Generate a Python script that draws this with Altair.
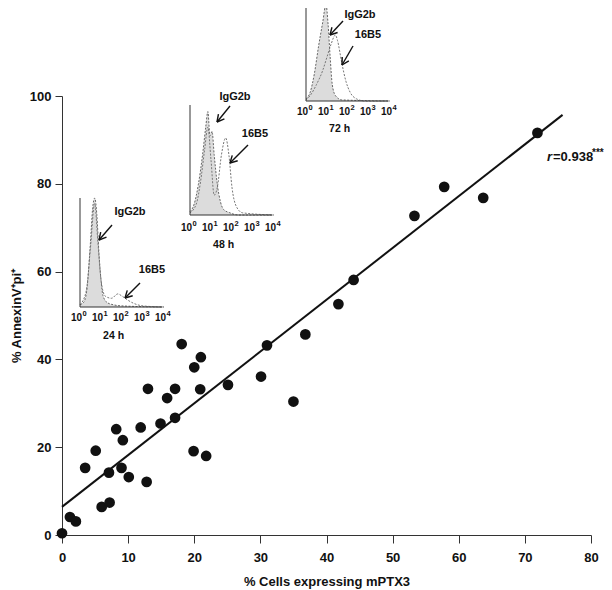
import math
import altair as alt
import pandas as pd

# ---------------- main scatter data ----------------
mptx3 = [0, 1.2, 2.1, 3.5, 5.1, 6.0, 7.2, 7.1, 8.2, 9.2, 9.0, 10.1, 11.9, 12.8, 13.0,
         14.9, 15.9, 17.1, 17.1, 18.1, 20.0, 21.0, 20.9, 19.9, 21.8, 25.1, 30.1, 31.0,
         35.0, 36.8, 41.8, 44.1, 53.3, 57.8, 63.7, 71.9]
annexin = [0.4, 4.1, 3.1, 15.3, 19.2, 6.4, 7.4, 14.2, 24.1, 21.6, 15.3, 13.2, 24.5, 12.1, 33.3,
           25.4, 31.2, 33.3, 26.7, 43.5, 38.2, 40.5, 33.2, 19.1, 18.0, 34.2, 36.1, 43.2,
           30.4, 45.7, 52.6, 58.1, 72.7, 79.3, 76.8, 91.6]
fit_x = [0, 75.7]
fit_y = [6.4, 95.7]
x_ticks = [0, 10, 20, 30, 40, 50, 60, 70, 80]
y_ticks = [0, 20, 40, 60, 80, 100]

# ---------------- inset histograms (log10 fluorescence, relative count) ----------------
h24_igg_x = [0.0, 0.2, 0.35, 0.5, 0.6, 0.7, 0.8, 0.9, 1.0, 1.1, 1.3, 1.6, 2.0, 4.0]
h24_igg_y = [2, 5, 20, 60, 90, 100, 85, 50, 25, 10, 4, 2, 1, 0]
h24_b_x = [0.0, 0.3, 0.5, 0.7, 0.85, 1.0, 1.2, 1.5, 1.8, 2.0, 2.3, 2.6, 3.0, 4.0]
h24_b_y = [2, 15, 55, 95, 60, 25, 10, 8, 12, 10, 6, 3, 1, 0]

h48_igg_x = [0.0, 0.2, 0.4, 0.6, 0.75, 0.85, 0.95, 1.05, 1.15, 1.3, 1.45, 1.6, 1.9, 2.3, 4.0]
h48_igg_y = [3, 10, 28, 55, 80, 94, 72, 76, 55, 28, 12, 5, 2, 0, 0]
h48_b_x = [0.0, 0.3, 0.5, 0.7, 0.85, 1.0, 1.15, 1.3, 1.5, 1.7, 1.85, 2.0, 2.2, 2.5, 4.0]
h48_b_y = [2, 10, 30, 60, 80, 50, 18, 25, 55, 70, 55, 25, 8, 2, 0]

h72_igg_x = [0.0, 0.2, 0.4, 0.6, 0.8, 0.95, 1.05, 1.15, 1.25, 1.4, 1.7, 4.0]
h72_igg_y = [2, 8, 25, 50, 72, 88, 70, 40, 15, 5, 1, 0]
h72_b_x = [0.0, 0.2, 0.5, 0.8, 1.0, 1.2, 1.4, 1.5, 1.7, 1.9, 2.1, 2.4, 2.8, 4.0]
h72_b_y = [1, 5, 15, 28, 40, 52, 60, 55, 35, 18, 8, 2, 0, 0]

decades = [0, 1, 2, 3, 4]
decade_exp = ["0", "1", "2", "3", "4"]

FONT = "Liberation Sans"
OX, OY = 62, 96  # plot origin on the page


def inset(igg_x, igg_y, b_x, b_y, xr, yr, tick_y, time_y, time_label):
    sx = alt.Scale(domain=[0, 4], range=xr, nice=False, zero=False)
    sy = alt.Scale(domain=[0, 100], range=yr, nice=False)
    X = lambda f: alt.X(f, scale=sx, axis=None)
    Y = lambda f: alt.Y(f, scale=sy, axis=None)
    igg = pd.DataFrame({"x": igg_x, "y": igg_y})
    b = pd.DataFrame({"x": b_x, "y": b_y})
    fill = alt.Chart(igg).mark_area(color="#dcdcdc", interpolate="monotone").encode(x=X("x:Q"), y=Y("y:Q"))
    outline = alt.Chart(igg).mark_line(color="#666", strokeWidth=1, strokeDash=[2, 1.5],
                                       interpolate="monotone").encode(x=X("x:Q"), y=Y("y:Q"))
    bl = alt.Chart(b).mark_line(color="#777", strokeWidth=1, strokeDash=[2, 1.5],
                                interpolate="monotone").encode(x=X("x:Q"), y=Y("y:Q"))
    vax = alt.Chart(pd.DataFrame({"x": [0], "y": [0], "y2": [100]})).mark_rule(
        color="#333", strokeWidth=1).encode(x=X("x:Q"), y=Y("y:Q"), y2="y2:Q")
    hax = alt.Chart(pd.DataFrame({"x": [0], "x2": [3.9], "y": [0]})).mark_rule(
        color="#333", strokeWidth=1).encode(x=X("x:Q"), x2="x2:Q", y=Y("y:Q"))
    tdf = pd.DataFrame({"x": decades, "e": decade_exp})
    base = alt.Chart(tdf).mark_text(
        text="10", font=FONT, fontSize=10, fontWeight="bold", color="#111",
        baseline="middle", align="right", dx=2).encode(x=X("x:Q"), y=alt.value(tick_y))
    sup = alt.Chart(tdf).mark_text(
        font=FONT, fontSize=7.5, fontWeight="bold", color="#111",
        baseline="middle", align="left", dx=2.5, dy=-4).encode(
        x=X("x:Q"), y=alt.value(tick_y), text="e:N")
    tl = alt.Chart(pd.DataFrame({"x": [1.6], "t": [time_label]})).mark_text(
        font=FONT, fontSize=10.5, fontWeight="bold", color="#111", baseline="middle").encode(
        x=X("x:Q"), y=alt.value(time_y), text="t:N")
    return alt.layer(fill, outline, bl, vax, hax, base, sup, tl)


# ---------------- main layer ----------------
xs = alt.Scale(domain=[0, 80], nice=False)
ys = alt.Scale(domain=[0, 100], nice=False)
xaxis = alt.Axis(values=x_ticks, grid=False, tickSize=8, labelPadding=8, titlePadding=11,
                 domainColor="#333", tickColor="#333", labelFlush=False)
yaxis = alt.Axis(values=y_ticks, grid=False, tickSize=7, labelPadding=4, titlePadding=6,
                 domainColor="#333", tickColor="#333", labelFlush=False)

pts = alt.Chart(pd.DataFrame({"x": mptx3, "y": annexin})).mark_circle(
    size=115, color="#111", opacity=1).encode(
    x=alt.X("x:Q", scale=xs, axis=xaxis, title="% Cells expressing mPTX3"),
    y=alt.Y("y:Q", scale=ys, axis=yaxis, title="% AnnexinV⁺pi⁺"))
fit = alt.Chart(pd.DataFrame({"x": fit_x, "y": fit_y})).mark_line(
    color="#111", strokeWidth=2).encode(x=alt.X("x:Q", scale=xs), y=alt.Y("y:Q", scale=ys))
main = alt.layer(fit, pts)

# ---------------- annotations (pixel space) ----------------
ann = alt.Chart(pd.DataFrame({"a": [0]}))
r_it = ann.mark_text(text="r", font=FONT, fontSize=13, fontWeight="bold", fontStyle="italic",
                     align="left", baseline="middle", color="#111").encode(
    x=alt.value(547 - OX), y=alt.value(157 - OY))
r_val = ann.mark_text(text="=0.938", font=FONT, fontSize=13, fontWeight="bold",
                      align="left", baseline="middle", color="#111").encode(
    x=alt.value(553 - OX), y=alt.value(157 - OY))
r_st = ann.mark_text(text="***", font=FONT, fontSize=10, fontWeight="bold",
                     align="left", baseline="middle", color="#111").encode(
    x=alt.value(592 - OX), y=alt.value(153 - OY))

arrows = [((112, 225), (99, 240)), ((140, 283), (125, 298)),
          ((230, 106), (217, 122)), ((248, 145), (230, 163)),
          ((343, 21), (330, 35)), ((353, 46), (342, 65))]
segs = []
for (tx, ty), (hx, hy) in arrows:
    segs.append((tx - OX, ty - OY, hx - OX, hy - OY))
    dx, dy = tx - hx, ty - hy
    L = math.hypot(dx, dy)
    ux, uy = dx / L, dy / L
    for ang in (0.5, -0.5):
        c, s = math.cos(ang), math.sin(ang)
        wx, wy = ux * c - uy * s, ux * s + uy * c
        segs.append((hx - OX, hy - OY, hx - OX + 8 * wx, hy - OY + 8 * wy))
seg_df = pd.DataFrame(segs, columns=["x", "y", "x2", "y2"])
arrow_layer = alt.Chart(seg_df).mark_rule(color="#111", strokeWidth=1.4).encode(
    x=alt.X("x:Q", scale=None, axis=None), y=alt.Y("y:Q", scale=None, axis=None),
    x2="x2:Q", y2="y2:Q")

lab_df = pd.DataFrame({
    "x": [130 - OX, 152 - OX, 235 - OX, 255 - OX, 360 - OX, 368 - OX],
    "y": [212 - OY, 270 - OY, 97 - OY, 134 - OY, 15 - OY, 35 - OY],
    "t": ["IgG2b", "16B5", "IgG2b", "16B5", "IgG2b", "16B5"]})
labels = alt.Chart(lab_df).mark_text(font=FONT, fontSize=11, fontWeight="bold",
                                     color="#111", baseline="middle").encode(
    x=alt.X("x:Q", scale=None, axis=None), y=alt.Y("y:Q", scale=None, axis=None), text="t:N")

ins1 = inset(h24_igg_x, h24_igg_y, h24_b_x, h24_b_y, [80 - OX, 164 - OX], [307 - OY, 198 - OY],
             318 - OY, 336 - OY, "24 h")
ins2 = inset(h48_igg_x, h48_igg_y, h48_b_x, h48_b_y, [190 - OX, 274 - OX], [215 - OY, 105 - OY],
             228 - OY, 245 - OY, "48 h")
ins3 = inset(h72_igg_x, h72_igg_y, h72_b_x, h72_b_y, [306 - OX, 390 - OX], [101 - OY, -9 - OY],
             112 - OY, 129 - OY, "72 h")

chart = alt.layer(ins1, ins2, ins3, main, arrow_layer, labels, r_it, r_val, r_st).resolve_scale(
    x="independent", y="independent").properties(
    width=529, height=439,
    padding={"left": 54, "top": 88, "right": 13, "bottom": 55},
    autosize=alt.AutoSizeParams(type="none"),
    background="white",
).configure_view(stroke=None).configure_axis(
    labelFont=FONT, labelFontSize=13, labelFontWeight="bold", labelColor="#111",
    titleFont=FONT, titleFontSize=13, titleFontWeight="bold", titleColor="#111")

chart.save("out.html", embed_options={"renderer": "svg", "actions": False})
